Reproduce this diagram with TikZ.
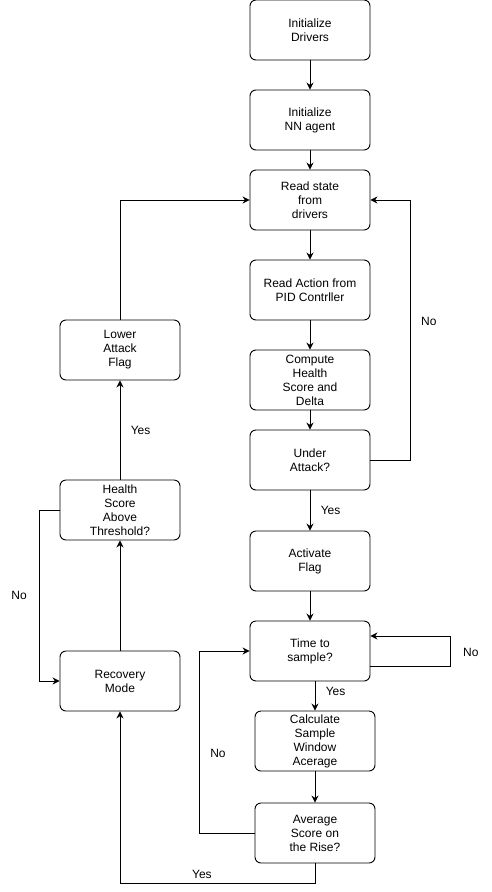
\documentclass[tikz,border=0pt]{standalone}
\usepackage{fontspec}
\setmainfont{Liberation Sans}
\usetikzlibrary{arrows.meta}
\usetikzlibrary{calc}

\begin{document}
\begin{tikzpicture}[x=1pt, y=-1pt, line width=0.9pt,
	box/.style={draw, rounded corners=6pt, minimum width=120pt, minimum height=60pt, inner sep=1pt, align=center, font=\fontsize{12}{14}\selectfont},
	arr/.style={-{Stealth[length=7pt, width=7pt]}},
	lbl/.style={font=\fontsize{12}{14}\selectfont}]
	% page: 491 x 892, y grows downwards
	\useasboundingbox (0,0) rectangle (491,892);
	
	% main column
	\node[box] (drivers) at (310,30) {Initialize\\Drivers};
	\node[box] (agent) at (310,120) {Initialize\\NN agent};
	\node[box] (state) at (310,200) {Read state\\from\\drivers};
	\node[box] (action) at (310,290) {Read Action from\\PID Contrller};
	\node[box] (health) at (310,380) {Compute\\Health\\Score and\\Delta};
	\node[box] (attack) at (310,460) {Under\\Attack?};
	\node[box] (flag) at (310,561) {Activate\\Flag};
	\node[box] (sample) at (310,651) {Time to\\sample?};
	\node[box] (window) at (315,741) {Calculate\\Sample\\Window\\Acerage};
	\node[box] (rise) at (315,833) {Average\\Score on\\the Rise?};
	
	% recovery column
	\node[box] (lower) at (120,350) {Lower\\Attack\\Flag};
	\node[box] (threshold) at (120,510) {Health\\Score\\Above\\Threshold?};
	\node[box] (recovery) at (120,681) {Recovery\\Mode};
	
	\draw[arr] (drivers) -- (agent);
	\draw[arr] (agent) -- (state);
	\draw[arr] (state) -- (action);
	\draw[arr] (action) -- (health);
	\draw[arr] (health) -- (attack);
	\draw[arr] (attack) -- node[lbl, right=7pt] {Yes} (flag);
	\draw[arr] (attack.east) -- ++(40,0) |- (state.east) node[lbl, pos=0.267, right=7pt] {No};
	\draw[arr] (flag) -- (sample);
	\draw[arr] ([yshift=-15pt]sample.east) -- ++(80,0) |- ([yshift=15pt]sample.east) node[lbl, pos=0.22, right=9pt] {No};
	\draw[arr] (sample.south -| window.north) -- node[lbl, pos=0.35, right=7pt] {Yes} (window);
	\draw[arr] (window) -- (rise);
	\draw[arr] (rise.west) -- ++(-55,0) |- (sample.west) node[lbl, pos=0.22, right=7pt] {No};
	\draw[arr] (rise.south) -- ++(0,20) -| (recovery.south) node[lbl, pos=0.29, above=1pt] {Yes};
	
	\draw[arr] (recovery) -- (threshold);
	\draw[arr] (threshold) -- node[lbl, right=7pt] {Yes} (lower);
	\draw[arr] (threshold.west) -- ++(-20,0) |- (recovery.west) node[lbl, pos=0.25, left=9pt] {No};
	\draw[arr] (lower.north) |- (state.west);
\end{tikzpicture}
\end{document}
